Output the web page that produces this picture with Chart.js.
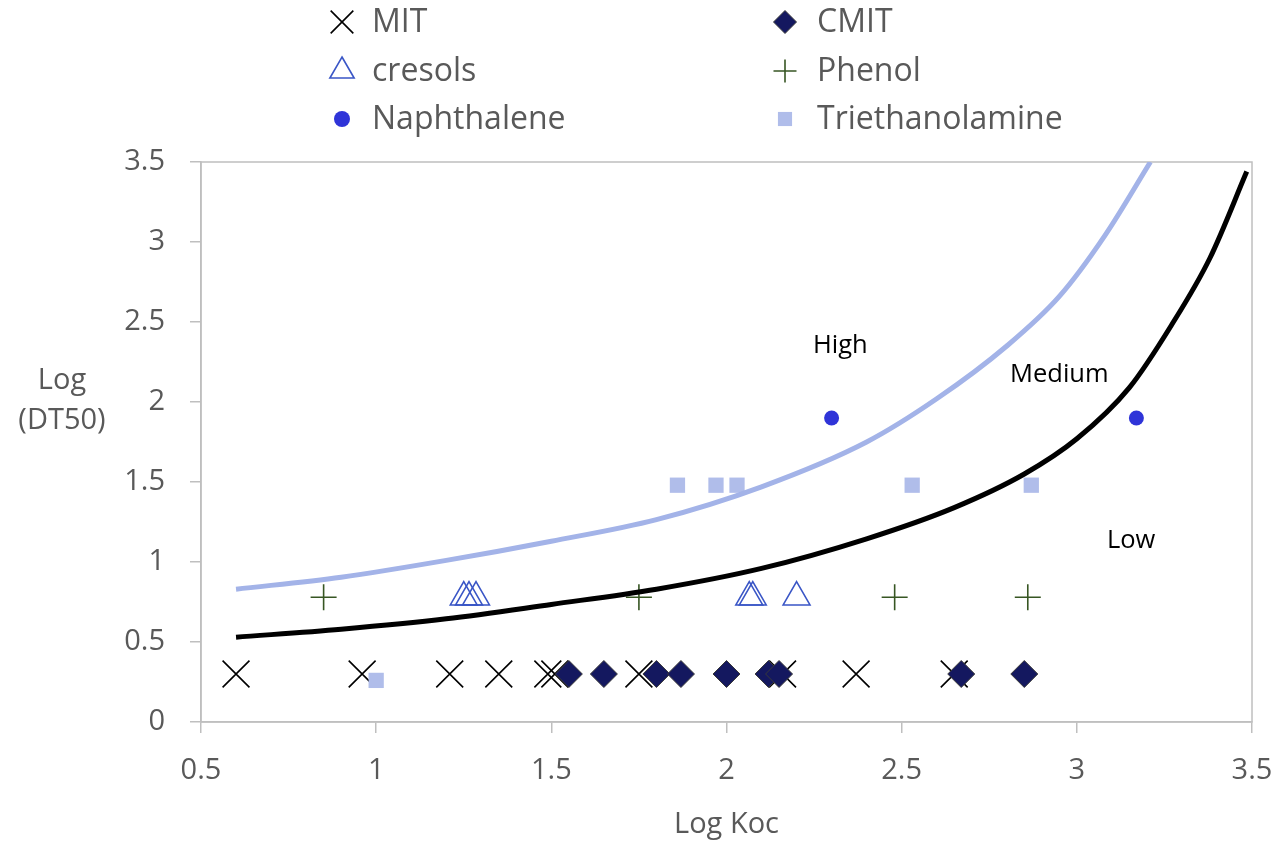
<!DOCTYPE html>
<html>
<head>
<meta charset="utf-8">
<title>Log DT50 vs Log Koc</title>
<script src="https://cdn.jsdelivr.net/npm/chart.js@4/dist/chart.umd.min.js"></script>
<style>
  html, body { margin: 0; padding: 0; background: #fff; }
  #wrap { width: 1282px; height: 843px; }
</style>
</head>
<body>
<div id="wrap"><canvas id="chart" width="1282" height="843"></canvas></div>
<script>
// Axis ticks
const xTicks = [0.5, 1, 1.5, 2, 2.5, 3, 3.5];
const yTicks = [0, 0.5, 1, 1.5, 2, 2.5, 3, 3.5];

// Substances (log Koc, log DT50)
const mitX = [0.60, 0.96, 1.21, 1.35, 1.49, 1.51, 1.75, 2.16, 2.37, 2.65];
const mitY = [0.30, 0.30, 0.30, 0.30, 0.30, 0.30, 0.30, 0.30, 0.30, 0.30];
const cmitX = [1.55, 1.65, 1.80, 1.87, 2.00, 2.12, 2.15, 2.67, 2.85];
const cmitY = [0.30, 0.30, 0.30, 0.30, 0.30, 0.30, 0.30, 0.30, 0.30];
const cresolX = [1.25, 1.265, 1.285, 2.065, 2.075, 2.20];
const cresolY = [0.78, 0.78, 0.78, 0.78, 0.78, 0.78];
const phenolX = [0.85, 1.75, 2.48, 2.86];
const phenolY = [0.78, 0.78, 0.78, 0.78];
const naphX = [2.30, 3.17];
const naphY = [1.90, 1.90];
const teaX = [1.00, 1.86, 1.97, 2.03, 2.53, 2.87];
const teaY = [0.26, 1.48, 1.48, 1.48, 1.48, 1.48];

// Boundary curves
const highCurveX = [0.60, 0.90, 1.20, 1.50, 1.80, 2.10, 2.40, 2.60, 2.80, 2.95, 3.08, 3.21];
const highCurveY = [0.83, 0.905, 1.01, 1.13, 1.265, 1.47, 1.75, 2.02, 2.35, 2.66, 3.04, 3.50];
const lowCurveX = [0.60, 0.90, 1.20, 1.50, 1.80, 2.10, 2.40, 2.65, 2.85, 3.00, 3.15, 3.27, 3.38, 3.485];
const lowCurveY = [0.53, 0.58, 0.645, 0.735, 0.83, 0.96, 1.145, 1.34, 1.55, 1.77, 2.09, 2.48, 2.90, 3.44];

// Region names and where they sit (data units)
const regionNames = ["High", "Medium", "Low"];
const regionX = [2.325, 2.95, 3.155];
const regionY = [2.35, 2.17, 1.13];

const TEXT = "#595959";
const FONT = '"Open Sans", sans-serif';

function pts(xs, ys) {
    return xs.map((x, i) => ({ x: x, y: ys[i] }));
}

// Legend, axis titles, region names, plot frame
const decorations = {
    id: "decorations",
    beforeDatasetsDraw(chart) {
        const ctx = chart.ctx;
        const a = chart.chartArea;
        ctx.save();
        ctx.strokeStyle = "#bfbfbf";
        ctx.lineWidth = 1.5;
        ctx.strokeRect(a.left, a.top, a.right - a.left, a.bottom - a.top);
        ctx.restore();
    },
    afterDraw(chart) {
        const ctx = chart.ctx;
        const a = chart.chartArea;
        const xs = chart.scales.x;
        const ys = chart.scales.y;
        ctx.save();

        // axis titles
        ctx.fillStyle = TEXT;
        ctx.font = "29px " + FONT;
        ctx.textAlign = "center";
        ctx.textBaseline = "middle";
        ctx.fillText("Log Koc", (a.left + a.right) / 2, 825);
        ctx.fillText("Log", 62, 381);
        ctx.fillText("(DT50)", 62, 421);

        // region names
        ctx.fillStyle = "#000";
        ctx.font = "25.5px " + FONT;
        regionNames.forEach((name, i) => {
            ctx.fillText(name, xs.getPixelForValue(regionX[i]), ys.getPixelForValue(regionY[i]));
        });

        // two-column legend
        const colMarker = [342, 785];
        const colText = [372, 817];
        const rows = [22, 71, 119];
        ctx.font = "32px " + FONT;
        ctx.textAlign = "left";
        chart.data.datasets.forEach((ds) => {
            if (ds.legendSlot === undefined) return;
            const c = ds.legendSlot % 2;
            const r = Math.floor(ds.legendSlot / 2);
            ctx.save();
            ctx.fillStyle = ds.backgroundColor;
            ctx.strokeStyle = ds.borderColor;
            ctx.lineWidth = ds.borderWidth;
            Chart.helpers.drawPoint(ctx, {
                pointStyle: ds.pointStyle,
                radius: ds.legendRadius,
                rotation: 0,
                borderWidth: ds.borderWidth
            }, colMarker[c], rows[r]);
            ctx.restore();
            ctx.fillStyle = TEXT;
            ctx.fillText(ds.label, colText[c], rows[r] + 1);
        });
        ctx.restore();
    }
};

const ctx = document.getElementById("chart").getContext("2d");
const myChart = new Chart(ctx, {
    type: "scatter",
    data: {
        datasets: [
            {
                label: "High boundary",
                data: pts(highCurveX, highCurveY),
                showLine: true,
                borderColor: "#a3b3e8",
                borderWidth: 5,
                pointRadius: 0,
                cubicInterpolationMode: "monotone",
                order: 0
            },
            {
                label: "Low boundary",
                data: pts(lowCurveX, lowCurveY),
                showLine: true,
                borderColor: "#000000",
                borderWidth: 5,
                pointRadius: 0,
                cubicInterpolationMode: "monotone",
                order: 0
            },
            {
                label: "MIT",
                data: pts(mitX, mitY),
                pointStyle: "crossRot",
                pointRadius: 19,
                legendRadius: 16,
                borderColor: "#000000",
                backgroundColor: "#000000",
                borderWidth: 1.6,
                legendSlot: 0,
                order: 6
            },
            {
                label: "CMIT",
                data: pts(cmitX, cmitY),
                pointStyle: "rectRot",
                pointRadius: 13.5,
                legendRadius: 11.5,
                borderColor: "#3a3a3a",
                backgroundColor: "#14185f",
                borderWidth: 1,
                legendSlot: 1,
                order: 5
            },
            {
                label: "cresols",
                data: pts(cresolX, cresolY),
                pointStyle: "triangle",
                pointRadius: 15.5,
                legendRadius: 14,
                borderColor: "#3a56c6",
                backgroundColor: "rgba(0,0,0,0)",
                borderWidth: 1.6,
                legendSlot: 2,
                order: 4
            },
            {
                label: "Phenol",
                data: pts(phenolX, phenolY),
                pointStyle: "cross",
                pointRadius: 13,
                legendRadius: 11.5,
                borderColor: "#375623",
                backgroundColor: "#375623",
                borderWidth: 1.6,
                legendSlot: 3,
                order: 3
            },
            {
                label: "Naphthalene",
                data: pts(naphX, naphY),
                pointStyle: "circle",
                pointRadius: 7.5,
                legendRadius: 8,
                borderColor: "#2f34d8",
                backgroundColor: "#2f34d8",
                borderWidth: 0,
                legendSlot: 4,
                order: 2
            },
            {
                label: "Triethanolamine",
                data: pts(teaX, teaY),
                pointStyle: "rect",
                pointRadius: 10.8,
                legendRadius: 10,
                borderColor: "#b0bdea",
                backgroundColor: "#b0bdea",
                borderWidth: 0,
                legendSlot: 5,
                order: 1
            }
        ]
    },
    options: {
        responsive: false,
        animation: false,
        events: [],
        layout: {
            padding: { top: 162, right: 30, left: 0, bottom: 0 }
        },
        plugins: {
            legend: { display: false },
            tooltip: { enabled: false }
        },
        scales: {
            x: {
                type: "linear",
                min: xTicks[0],
                max: xTicks[xTicks.length - 1],
                afterBuildTicks(scale) {
                    scale.ticks = xTicks.map(v => ({ value: v }));
                },
                afterFit(scale) {
                    scale.height = 121;
                    scale.paddingLeft = 0;
                    scale.paddingRight = 0;
                },
                border: { display: true, color: "#bfbfbf", width: 1.5 },
                grid: {
                    drawOnChartArea: false,
                    drawTicks: true,
                    tickLength: 11,
                    color: "#bfbfbf",
                    lineWidth: 1.5
                },
                ticks: {
                    color: TEXT,
                    font: { family: FONT, size: 29 },
                    padding: 20,
                    maxRotation: 0,
                    callback: v => String(v)
                }
            },
            y: {
                type: "linear",
                min: yTicks[0],
                max: yTicks[yTicks.length - 1],
                afterBuildTicks(scale) {
                    scale.ticks = yTicks.map(v => ({ value: v }));
                },
                afterFit(scale) {
                    scale.width = 201;
                    scale.paddingTop = 0;
                    scale.paddingBottom = 0;
                },
                border: { display: true, color: "#bfbfbf", width: 1.5 },
                grid: {
                    drawOnChartArea: false,
                    drawTicks: true,
                    tickLength: 11,
                    color: "#bfbfbf",
                    lineWidth: 1.5
                },
                ticks: {
                    color: TEXT,
                    font: { family: FONT, size: 29 },
                    padding: 25,
                    callback: v => String(v)
                }
            }
        }
    },
    plugins: [decorations]
});
</script>
</body>
</html>
